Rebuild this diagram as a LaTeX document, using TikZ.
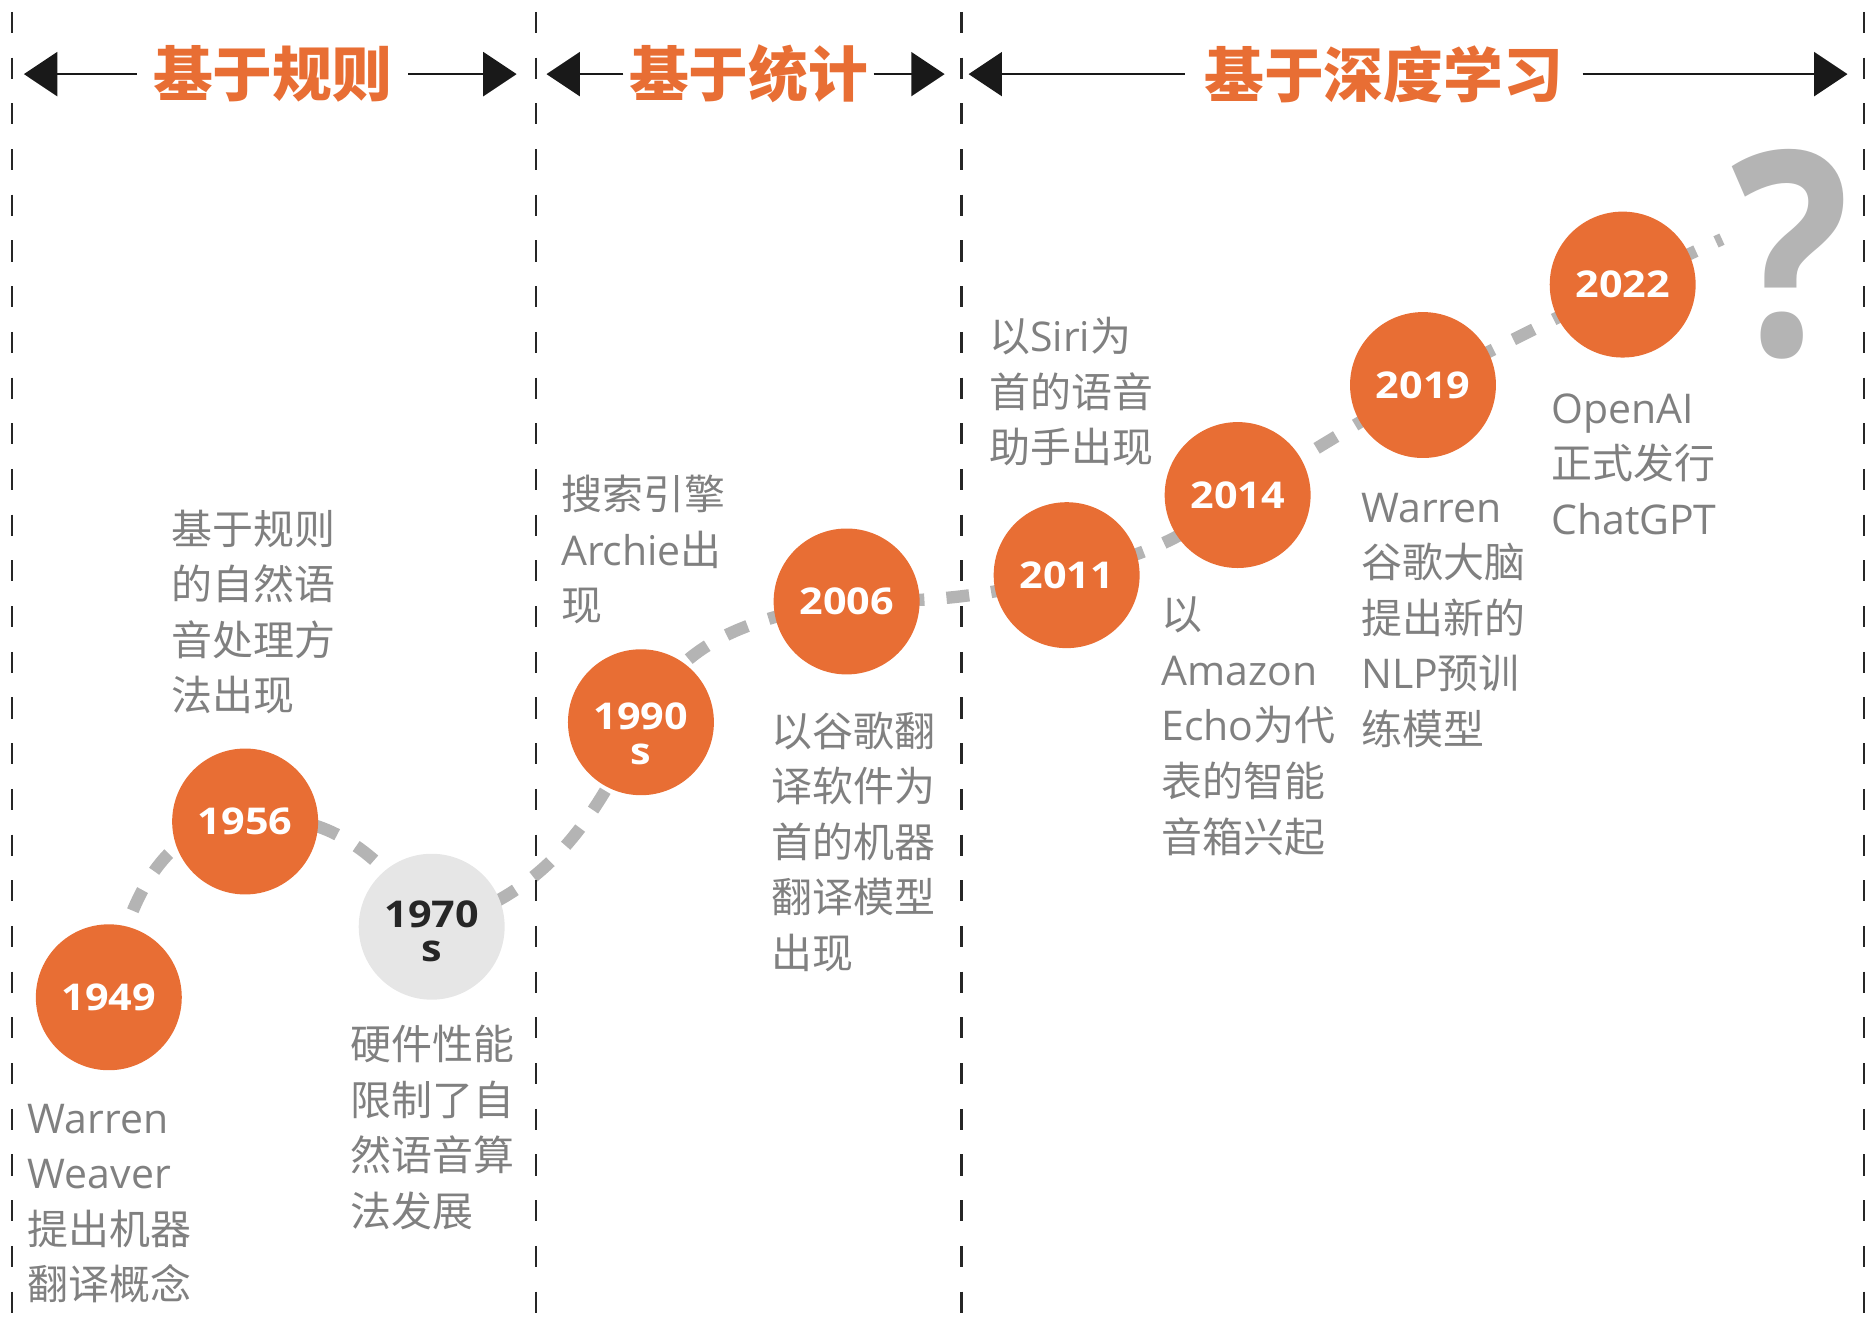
\documentclass[tikz,border=0pt]{standalone}
\usepackage{fontspec}
\setmainfont{Noto Sans CJK SC}
\newfontfamily\lat{Open Sans}
\newfontfamily\yearfont{Open Sans}[FakeStretch=1.12]
\usetikzlibrary{arrows.meta,backgrounds}

\definecolor{cheng}{RGB}{232,110,52}
\definecolor{huise}{RGB}{128,128,128}
\definecolor{qianhui}{RGB}{180,180,180}
\definecolor{dihui}{RGB}{230,230,230}
\definecolor{shenhui}{RGB}{38,38,38}

\begin{document}
\begin{tikzpicture}[
        x=0.023916cm, y=0.023916cm,
        nian/.style={circle, fill=cheng, minimum size=2.918cm, inner sep=0pt, text=white, align=center,
            font=\yearfont\bfseries\fontsize{21}{19.5}\selectfont},
        wenzi/.style={anchor=north west, inner sep=0pt, align=left, text=huise,
            font=\fontsize{23.3}{31.6}\selectfont},
        biaoti/.style={text=cheng, inner ysep=0pt, font=\bfseries\fontsize{34}{34}\selectfont},
        jiantou/.style={-{Triangle[length=19pt,width=25pt]}, line width=1.4pt, black!90},
        fenjie/.style={line width=1.3pt, black!85, dash pattern=on 12pt off 14pt},
        guiji/.style={line width=7pt, qianhui, dash pattern=on 13pt off 12.6pt},
        wenhao/.style={inner sep=0pt, text=qianhui, font=\lat\bfseries\fontsize{162}{162}\selectfont}
    ]
    \useasboundingbox (0,0) rectangle (1568,1122);

    % dividers
    \draw[fenjie] (10,1112) -- (10,20);
    \draw[fenjie] (448,1112) -- (448,20);
    \draw[fenjie] (804,1112) -- (804,20);
    \draw[fenjie] (1559,1112) -- (1559,20);

    % headers
    \node[biaoti, inner xsep=9pt] (h1) at (228,1060) {基于规则};
    \node[biaoti, inner xsep=3pt] (h2) at (626,1060) {基于统计};
    \node[biaoti, inner xsep=11pt] (h3) at (1157,1060) {基于深度学习};
    \coordinate (l1) at (20,1060);
    \coordinate (r1) at (432,1060);
    \coordinate (l2) at (457,1060);
    \coordinate (r2) at (790,1060);
    \coordinate (l3) at (810,1060);
    \coordinate (r3) at (1545,1060);
    \draw[jiantou] (h1) -- (l1);
    \draw[jiantou] (h1) -- (r1);
    \draw[jiantou] (h2) -- (l2);
    \draw[jiantou] (h2) -- (r2);
    \draw[jiantou] (h3) -- (l3);
    \draw[jiantou] (h3) -- (r3);

    % years
    \node[nian] (c1949) at (91,288) {1949};
    \node[nian] (c1956) at (205,435) {1956};
    \node[nian, fill=dihui, text=shenhui] (c1970) at (361,347) {\rule{0pt}{20.5pt}1970\\s};
    \node[nian] (c1990) at (536,518) {\rule{0pt}{28.5pt}1990\\s};
    \node[nian] (c2006) at (708,619) {2006};
    \node[nian] (c2011) at (892,641) {2011};
    \node[nian] (c2014) at (1035,708) {2014};
    \node[nian] (c2019) at (1190,800) {2019};
    \node[nian] (c2022) at (1357,884) {2022};
    \coordinate (wei) at (1440,922);
    \node[wenhao] (wen) at (1497,909) {\scalebox{0.87}[1]{?}};

    \begin{scope}[on background layer]
        \draw[guiji] (c1949.center) to[out=80,in=180] (c1956.center)
            to[out=10,in=125] (c1970.center)
            to[out=15,in=245] (c1990.center)
            to[out=65,in=190] (c2006.center)
            to[out=0,in=195] (c2011.center)
            to[out=15,in=220] (c2014.center)
            to[out=30,in=210] (c2019.center)
            to[out=27,in=207] (c2022.center)
            -- (wei);
    \end{scope}

    % events
    \node[wenzi] (t1949) at (23,199) {{\lat Warren}\\{\lat Weaver}\\提出机器\\翻译概念};
    \node[wenzi] (t1956) at (143,696) {基于规则\\的自然语\\音处理方\\法出现};
    \node[wenzi] (t1970) at (293,265) {硬件性能\\限制了自\\然语音算\\法发展};
    \node[wenzi] (t1990) at (469,725) {搜索引擎\\{\lat Archie}出\\现};
    \node[wenzi] (t2006) at (645,527) {以谷歌翻\\译软件为\\首的机器\\翻译模型\\出现};
    \node[wenzi] (t2011) at (827,857) {以{\lat Siri}为\\首的语音\\助手出现};
    \node[wenzi] (t2014) at (971,623) {以\\{\lat Amazon}\\{\lat Echo}为代\\表的智能\\音箱兴起};
    \node[wenzi] (t2019) at (1138,710) {{\lat Warren}\\谷歌大脑\\提出新的\\{\lat NLP}预训\\练模型};
    \node[wenzi] (t2022) at (1297,793) {{\lat OpenAI}\\正式发行\\{\lat ChatGPT}};
\end{tikzpicture}
\end{document}
